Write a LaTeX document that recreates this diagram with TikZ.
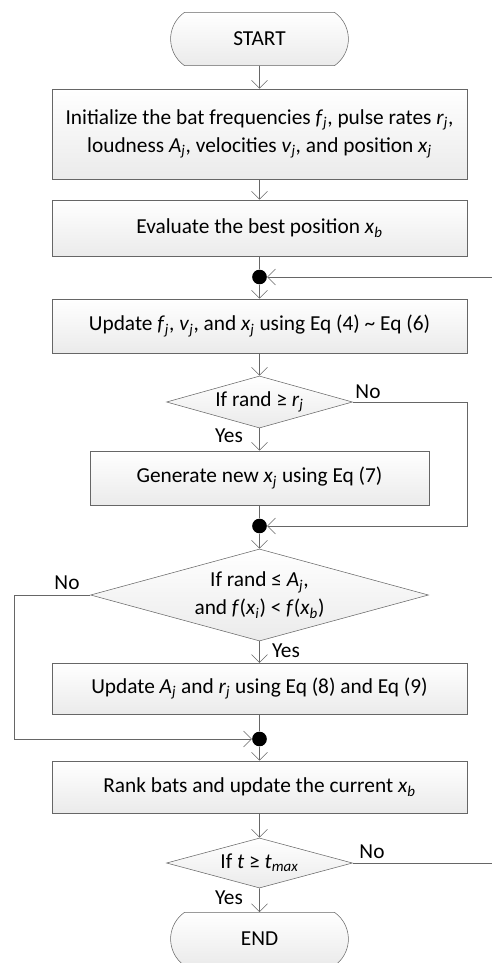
\documentclass[tikz,border=0pt]{standalone}
\usepackage{fontspec}
\setmainfont{Carlito}
\usetikzlibrary{shapes.geometric,shapes.misc,arrows.meta}
\tikzset{
  procbox/.style={draw=black!60, top color=white, bottom color=black!8, minimum width=311pt, align=center, inner sep=2pt},
  termbox/.style={rounded rectangle, rounded rectangle arc length=110, draw=black!60, top color=white, bottom color=black!8, minimum width=140pt, minimum height=40pt},
  decbox/.style={diamond, draw=black!60, top color=white, bottom color=black!8, inner sep=0pt, align=center},
  joint/.style={circle, fill=black, inner sep=0pt, minimum size=11pt},
  flow/.style={draw=black!60, -{Straight Barb[length=6pt,width=12pt]}},
  link/.style={draw=black!60},
}
\newcommand{\vsub}[2]{\textit{#1}\textsubscript{\textit{#2}}}
\begin{document}
\begin{tikzpicture}[x=0.75pt,y=-0.75pt,font=\fontsize{16}{21}\selectfont]
\useasboundingbox (0,0) rectangle (492,963);

\node[termbox] (start) at (259.5,39) {START};
\node[procbox, minimum height=67.5pt] (init) at (259.5,134)
  {Initialize the bat frequencies \vsub{f}{j}, pulse rates \vsub{r}{j},\\
   loudness \vsub{A}{j}, velocities \vsub{v}{j}, and position \vsub{x}{j}};
\node[procbox, minimum height=42pt] (eval) at (259.5,228) {Evaluate the best position \vsub{x}{b}};
\node[joint] (j1) at (259.5,277) {};
\node[procbox, minimum height=40.5pt] (upd) at (259.5,326)
  {Update \vsub{f}{j}, \vsub{v}{j}, and \vsub{x}{j} using Eq (4) \textasciitilde\ Eq (6)};
\node[decbox, minimum width=139.5pt, minimum height=39pt, aspect=3.6] (pulse) at (259.5,402) {If rand ≥ \vsub{r}{j}};
\node[procbox, minimum width=254pt, minimum height=40.5pt] (gen) at (259.5,478) {Generate new \vsub{x}{j} using Eq (7)};
\node[joint] (j2) at (259.5,526) {};
\node[decbox, minimum width=253.5pt, minimum height=69pt, aspect=3.7] (loud) at (259.5,595)
  {If rand ≤ \vsub{A}{j},\\ and \textit{f}(\vsub{x}{i}) < \textit{f}(\vsub{x}{b})};
\node[procbox, minimum height=38pt] (upd2) at (259.5,688.5)
  {Update \vsub{A}{j} and \vsub{r}{j} using Eq (8) and Eq (9)};
\node[joint] (j3) at (259.5,739) {};
\node[procbox, minimum height=39pt] (rank) at (259.5,787) {Rank bats and update the current \vsub{x}{b}};
\node[decbox, minimum width=139.5pt, minimum height=37.5pt, aspect=3.7] (stop) at (259.5,863) {If \textit{t} ≥ \vsub{t}{max}};
\node[termbox] (end) at (259.5,939) {END};

% labels
\node (yes1) at (229,436) {Yes};
\node (no1) at (368,392) {No};
\node (yes2) at (286,651) {Yes};
\node (no2) at (67,583) {No};
\node (yes3) at (229,898) {Yes};
\node (no3) at (372,852) {No};

% bends
\coordinate (b1) at (467,402);
\coordinate (b2) at (467,526);
\coordinate (b3) at (14,595);
\coordinate (b4) at (14,739);
\coordinate (b5) at (497,863);
\coordinate (b6) at (497,277);

\draw[flow] (start) -- (init);
\draw[flow] (init) -- (eval);
\draw[link] (eval) -- (j1);
\draw[flow] (j1) -- (upd);
\draw[flow] (upd) -- (pulse);
\draw[flow] (pulse) -- (gen);
\draw[link] (gen) -- (j2);
\draw[flow] (pulse.east) -- (b1) -- (b2) -- (j2);
\draw[flow] (j2) -- (loud);
\draw[flow] (loud) -- (upd2);
\draw[link] (upd2) -- (j3);
\draw[flow] (loud.west) -- (b3) -- (b4) -- (j3);
\draw[flow] (j3) -- (rank);
\draw[flow] (rank) -- (stop);
\draw[flow] (stop) -- (end);
\draw[flow] (stop.east) -- (b5) -- (b6) -- (j1);

\end{tikzpicture}
\end{document}
